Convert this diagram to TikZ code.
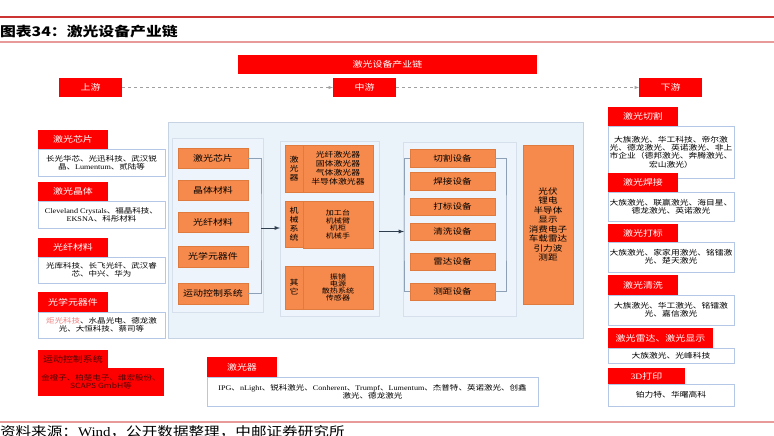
\documentclass[tikz,border=0pt]{standalone}
\usepackage{fontspec}
\setmainfont{Noto Sans CJK SC}[FakeStretch=1.2]
\newfontfamily\lat{Liberation Serif}[FakeStretch=1.15]

\definecolor{hdrred}{HTML}{FF0000}
\definecolor{boxorange}{HTML}{F68A4C}
\definecolor{oline}{HTML}{E07B3F}
\definecolor{boxline}{HTML}{B4C7E7}
\definecolor{panelblue}{HTML}{EAF2FA}
\definecolor{panelline}{HTML}{C5D3E3}
\definecolor{subblue}{HTML}{EEF4FB}
\definecolor{subline}{HTML}{D6E0EC}
\definecolor{brline}{HTML}{8EA0B5}
\definecolor{flowcol}{HTML}{2F3F4F}
\definecolor{guidegray}{HTML}{A0A0A0}
\definecolor{topred}{HTML}{CC3333}
\definecolor{pinkline}{HTML}{E89A9A}
\definecolor{darkred}{HTML}{4A0808}
\definecolor{softred}{HTML}{F08080}

\begin{document}
\begin{tikzpicture}[
    x=1pt, y=-1pt,
    every node/.style={inner sep=0pt, outer sep=0pt},
    redhdr/.style={fill=hdrred, text=white, anchor=north west,
                   font=\fontsize{8.3}{10}\selectfont},
    infobox/.style={draw=boxline, fill=white, line width=0.8pt, anchor=north west,
                    align=center, font=\fontsize{7.1}{7.8}\selectfont},
    obox/.style={fill=boxorange, draw=oline, line width=0.6pt, anchor=north west,
                 align=center, font=\fontsize{8.3}{10}\selectfont},
    panel/.style={fill=panelblue, draw=panelline, line width=0.8pt, anchor=north west},
    subpanel/.style={fill=subblue, draw=subline, line width=0.6pt, anchor=north west},
    bracket/.style={draw=brline, line width=0.7pt},
    flow/.style={draw=flowcol, line width=0.9pt, -latex},
    guide/.style={draw=guidegray, dashed, line width=0.5pt, -latex}
]
\useasboundingbox (0,0) rectangle (774,436);
\clip (0,0) rectangle (774,436);

% =========================================================
% HEADER
% =========================================================
\draw[topred, line width=2pt] (0,17) -- (774,17);
\node[anchor=west, font=\fontsize{13.2}{15}\selectfont\bfseries] (title) at (0,32)
      {图表34：激光设备产业链};
\draw[pinkline, line width=1.5pt] (0,42) -- (774,42);

\node[redhdr, minimum width=299, minimum height=19] (banner) at (238,55) {激光设备产业链};
\node[redhdr, minimum width=63, minimum height=19] (up) at (59,78) {上游};
\node[redhdr, minimum width=63, minimum height=19] (mid) at (333,78) {中游};
\node[redhdr, minimum width=63, minimum height=19] (down) at (639,78) {下游};
\draw[guide] (up) -- (mid);
\draw[guide] (mid) -- (down);

% =========================================================
% UPSTREAM: suppliers
% =========================================================
\node[redhdr, minimum width=70, minimum height=19] (h1) at (38,130) {激光芯片};
\node[infobox, minimum width=127, minimum height=27] (c1) at (h1.south west)
      {长光华芯、光迅科技、武汉锐\\晶、{\lat Lumentum}、贰陆等};

\node[redhdr, minimum width=70, minimum height=19] (h2) at (38,182) {激光晶体};
\node[infobox, minimum width=127, minimum height=27] (c2) at (h2.south west)
      {{\lat Cleveland Crystals}、福晶科技、\\{\lat EKSNA}、科彤材料};

\node[redhdr, minimum width=70, minimum height=19] (h3) at (38,238) {光纤材料};
\node[infobox, minimum width=127, minimum height=26] (c3) at (h3.south west)
      {光库科技、长飞光纤、武汉睿\\芯、中兴、华为};

\node[redhdr, minimum width=70, minimum height=20] (h4) at (38,292) {光学元器件};
\node[infobox, minimum width=127, minimum height=26] (c4) at (h4.south west)
      {\textcolor{softred}{炬光科技}、水晶光电、德龙激\\光、大恒科技、蔡司等};

\node[redhdr, text=darkred, minimum width=70, minimum height=18] (h5) at (38,350) {运动控制系统};
\node[infobox, draw=none, fill=hdrred, text=darkred, minimum width=126, minimum height=28]
      (c5) at (h5.south west) {金橙子、柏楚电子、维宏股份、\\SCAPS GmbH等};

% =========================================================
% CENTRE PANEL
% =========================================================
\node[panel, minimum width=415, minimum height=216] (midpanel) at (168,122) {};
\node[subpanel, minimum width=91, minimum height=174] (pA) at (172,138) {};
\node[subpanel, minimum width=99, minimum height=175] (pB) at (280,141) {};
\node[subpanel, minimum width=113, minimum height=174] (pC) at (403,142) {};

% materials
\node[obox, minimum width=70, minimum height=20] (u1) at (178,148) {激光芯片};
\node[obox, minimum width=70, minimum height=20] (u2) at (178,180) {晶体材料};
\node[obox, minimum width=70, minimum height=20] (u3) at (178,212) {光纤材料};
\node[obox, minimum width=70, minimum height=21] (u4) at (178,246) {光学元器件};
\node[obox, minimum width=70, minimum height=21] (u5) at (178,283) {运动控制系统};
\coordinate (ubr) at (261,228);
\draw[bracket] (u1.east) -| (ubr) |- (u5.east);
\draw[flow] (ubr) -- (ubr -| pB.west);

% components
\node[obox, minimum width=18, minimum height=47, font=\fontsize{7.5}{9}\selectfont]
      (m1l) at (285,145) {激\\光\\器};
\node[obox, minimum width=70, minimum height=47, font=\fontsize{7.4}{9}\selectfont]
      (m1r) at (303,145) {光纤激光器\\固体激光器\\气体激光器\\半导体激光器};
\node[obox, minimum width=18, minimum height=46, font=\fontsize{7.5}{9}\selectfont]
      (m2l) at (285,201) {机\\械\\系\\统};
\node[obox, minimum width=70, minimum height=47, font=\fontsize{6.7}{7.5}\selectfont]
      (m2r) at (303,201) {加工台\\机械臂\\机柜\\机械手};
\node[obox, minimum width=18, minimum height=43, font=\fontsize{7.5}{9}\selectfont]
      (m3l) at (285,266) {其\\它};
\node[obox, minimum width=70, minimum height=43, font=\fontsize{6.7}{7.2}\selectfont]
      (m3r) at (303,266) {振镜\\电源\\散热系统\\传感器};

% equipment
\node[obox, minimum width=85, minimum height=18, font=\fontsize{8}{9}\selectfont] (e1) at (410,149) {切割设备};
\node[obox, minimum width=85, minimum height=18, font=\fontsize{8}{9}\selectfont] (e2) at (410,172) {焊接设备};
\node[obox, minimum width=85, minimum height=17, font=\fontsize{8}{9}\selectfont] (e3) at (410,198) {打标设备};
\node[obox, minimum width=85, minimum height=17, font=\fontsize{8}{9}\selectfont] (e4) at (410,223) {清洗设备};
\node[obox, minimum width=85, minimum height=17, font=\fontsize{8}{9}\selectfont] (e5) at (410,253) {雷达设备};
\node[obox, minimum width=85, minimum height=17, font=\fontsize{8}{9}\selectfont] (e6) at (410,283) {测距设备};
\coordinate (cbl) at (404,231);
\coordinate (cbr) at (506,231);
\draw[bracket] (e1.west) -| (cbl) |- (e6.west);
\draw[bracket] (e1.east) -| (cbr) |- (e6.east);
\draw[flow] (pB.east |- e4) -- (cbl |- e4);

% applications
\node[obox, minimum width=50, minimum height=159, font=\fontsize{8}{9.5}\selectfont]
      (app) at (523,145) {光伏\\锂电\\半导体\\显示\\消费电子\\车载雷达\\引力波\\测距};

% =========================================================
% DOWNSTREAM: users
% =========================================================
\node[infobox, font=\fontsize{7.3}{8.2}\selectfont, minimum width=126, minimum height=52] (d1c) at (608,126)
      {大族激光、华工科技、帝尔激\\光、德龙激光、英诺激光、非上\\市企业（德邦激光、奔腾激光、\\宏山激光）};
\node[redhdr, minimum width=70, minimum height=19] (d1h) at (608,107) {激光切割};

\node[infobox, font=\fontsize{7.3}{8.2}\selectfont, minimum width=126, minimum height=29] (d2c) at (608,192)
      {大族激光、联赢激光、海目星、\\德龙激光、英诺激光};
\node[redhdr, minimum width=70, minimum height=19] (d2h) at (608,173) {激光焊接};

\node[infobox, font=\fontsize{7.3}{8.2}\selectfont, minimum width=126, minimum height=30] (d3c) at (608,242)
      {大族激光、家家用激光、铭镭激\\光、楚天激光};
\node[redhdr, minimum width=70, minimum height=18] (d3h) at (608,224) {激光打标};

\node[infobox, font=\fontsize{7.3}{8.2}\selectfont, minimum width=126, minimum height=30] (d4c) at (608,295)
      {大族激光、华工激光、铭镭激\\光、嘉信激光};
\node[redhdr, minimum width=70, minimum height=20] (d4h) at (608,275) {激光清洗};

\node[infobox, font=\fontsize{7.3}{8.2}\selectfont, minimum width=126, minimum height=15] (d5c) at (608,348)
      {大族激光、光峰科技};
\node[redhdr, minimum width=105, minimum height=20] (d5h) at (608,328) {激光雷达、激光显示};

\node[infobox, font=\fontsize{7.3}{8.2}\selectfont, minimum width=126, minimum height=22] (d6c) at (608,384)
      {铂力特、华曙高科};
\node[redhdr, minimum width=77, minimum height=16] (d6h) at (608,368) {{\lat 3D}打印};

% =========================================================
% LASER MAKERS (bottom)
% =========================================================
\node[redhdr, minimum width=70, minimum height=20] (lh) at (207,357) {激光器};
\node[infobox, minimum width=331, minimum height=29] (lc) at (lh.south west)
      {{\lat IPG}、{\lat nLight}、锐科激光、{\lat Conherent}、{\lat Trumpf}、{\lat Lumentum}、杰普特、英诺激光、创鑫\\激光、德龙激光};

% source line, cut by the frame
\draw[pinkline, line width=2pt] (0,422) -- (774,422);
\node[anchor=west, font=\fontsize{13}{15}\selectfont] (src) at (0,432)
      {资料来源：{\lat Wind}，公开数据整理，中邮证券研究所};

\end{tikzpicture}
\end{document}
